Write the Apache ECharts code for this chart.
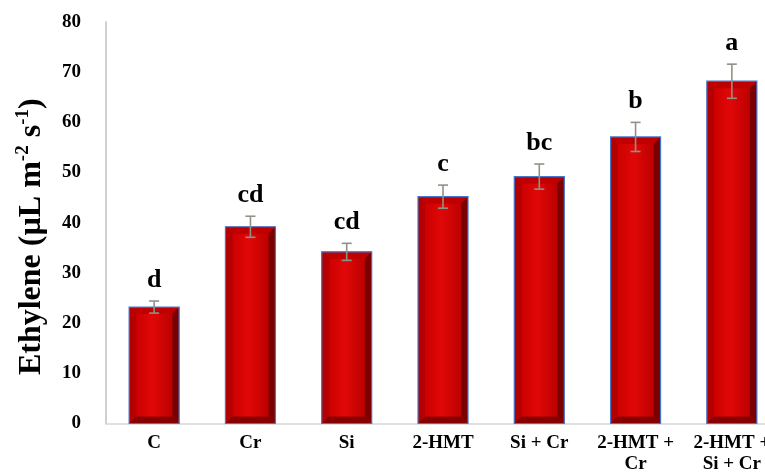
<!DOCTYPE html>
<html>
<head>
<meta charset="utf-8">
<script src="https://cdn.jsdelivr.net/npm/echarts@6/dist/echarts.min.js"></script>
<style>
  html, body { margin: 0; padding: 0; background: #ffffff; }
  #chart { width: 765px; height: 472px; }
</style>
</head>
<body>
<div id="chart"></div>
<script>
// Treatments on the x axis
const categories = ['C', 'Cr', 'Si', '2-HMT', 'Si + Cr', '2-HMT +\nCr', '2-HMT +\nSi + Cr'];
// Mean ethylene production and its standard error
const means = [23.2, 39.2, 34.2, 45.2, 49.2, 57.1, 68.2];
const errors = [1.2, 2.1, 1.7, 2.3, 2.5, 2.9, 3.4];
// Significance letters shown above each bar
const letters = ['d', 'cd', 'cd', 'c', 'bc', 'b', 'a'];
// Y axis range and step
const yMin = 0, yMax = 80, yStep = 10;

const FONT = '"Liberation Serif", "Times New Roman", serif';
const BAR_W = 50;
const BEVEL = 7;

const barData = means.map((m, i) => [i, m]);
const errData = means.map((m, i) => [i, m, errors[i]]);

function renderBar(params, api) {
  const idx = api.value(0);
  const top = api.coord([idx, api.value(1)]);
  const base = api.coord([idx, 0]);
  const x0 = top[0] - BAR_W / 2, x1 = top[0] + BAR_W / 2;
  const y0 = top[1], y1 = base[1];
  const b = Math.min(BEVEL, (y1 - y0) / 2);
  return {
    type: 'group',
    children: [
      { type: 'rect', shape: { x: x0, y: y0, width: BAR_W, height: y1 - y0 },
        style: { fill: '#a80000' } },
      { type: 'polygon', shape: { points: [[x0, y0], [x1, y0], [x1 - b, y0 + b], [x0 + b, y0 + b]] },
        style: { fill: '#c00000' } },
      { type: 'polygon', shape: { points: [[x0, y0], [x0 + b, y0 + b], [x0 + b, y1 - b], [x0, y1]] },
        style: { fill: '#b40000' } },
      { type: 'polygon', shape: { points: [[x1, y0], [x1, y1], [x1 - b, y1 - b], [x1 - b, y0 + b]] },
        style: { fill: '#7a0000' } },
      { type: 'polygon', shape: { points: [[x0, y1], [x1, y1], [x1 - b, y1 - b], [x0 + b, y1 - b]] },
        style: { fill: '#860000' } },
      { type: 'rect', shape: { x: x0 + b, y: y0 + b, width: BAR_W - 2 * b, height: Math.max(0, y1 - y0 - 2 * b) },
        style: { fill: new echarts.graphic.LinearGradient(0, 0, 1, 0, [
          { offset: 0, color: '#cc0000' },
          { offset: 0.45, color: '#e00808' },
          { offset: 1, color: '#bc0000' }
        ]) } },
      { type: 'rect', shape: { x: x0, y: y0, width: BAR_W, height: y1 - y0 },
        style: { fill: null, stroke: '#4577cc', lineWidth: 1.2 } }
    ]
  };
}

function renderError(params, api) {
  const idx = api.value(0);
  const m = api.value(1), e = api.value(2);
  const hi = api.coord([idx, m + e]);
  const lo = api.coord([idx, m - e]);
  const cx = hi[0], cap = 5;
  const style = { stroke: '#8c9486', lineWidth: 1.6 };
  return {
    type: 'group',
    children: [
      { type: 'line', shape: { x1: cx, y1: hi[1], x2: cx, y2: lo[1] }, style },
      { type: 'line', shape: { x1: cx - cap, y1: hi[1], x2: cx + cap, y2: hi[1] }, style },
      { type: 'line', shape: { x1: cx - cap, y1: lo[1], x2: cx + cap, y2: lo[1] }, style },
      { type: 'text', x: cx, y: hi[1] - 8,
        style: { text: letters[idx], fill: '#000', font: 'bold 26px ' + FONT,
                 align: 'center', verticalAlign: 'bottom' } }
    ]
  };
}

const chart = echarts.init(document.getElementById('chart'), null, { renderer: 'canvas' });
chart.setOption({
  animation: false,
  backgroundColor: '#ffffff',
  grid: { left: 106, top: 22, width: 674, height: 401.5, outerBoundsMode: 'none', containLabel: false },
  xAxis: {
    type: 'category',
    data: categories,
    boundaryGap: true,
    axisLine: { show: true, lineStyle: { color: '#d6d6d6', width: 1.5 } },
    axisTick: { show: false },
    axisLabel: { color: '#000', fontFamily: FONT, fontWeight: 'bold', fontSize: 19,
                 lineHeight: 21, margin: 9, interval: 0 },
    splitLine: { show: false }
  },
  yAxis: {
    type: 'value',
    min: yMin, max: yMax, interval: yStep,
    axisLine: { show: true, lineStyle: { color: '#d0d0d0', width: 2 } },
    axisTick: { show: false },
    splitLine: { show: false },
    axisLabel: { color: '#000', fontFamily: FONT, fontWeight: 'bold', fontSize: 19, margin: 25 },
    name: '{b|Ethylene (µL m}{s|-2}{b| s}{s|-1}{b|)}',
    nameLocation: 'middle',
    nameRotate: 90,
    nameGap: 56,
    nameTextStyle: {
      padding: [0, 28, 0, 0],
      rich: {
        b: { fontFamily: FONT, fontWeight: 'bold', fontSize: 32, color: '#000', lineHeight: 36 },
        s: { fontFamily: FONT, fontWeight: 'bold', fontSize: 19, color: '#000', verticalAlign: 'top', lineHeight: 36, padding: [0, 0, 17, 0] }
      }
    }
  },
  series: [
    { type: 'custom', name: 'Ethylene', renderItem: renderBar, data: barData,
      encode: { x: 0, y: 1 }, z: 2 },
    { type: 'custom', name: 'SE', renderItem: renderError, data: errData,
      encode: { x: 0, y: [1] }, z: 3 }
  ]
});
</script>
</body>
</html>
